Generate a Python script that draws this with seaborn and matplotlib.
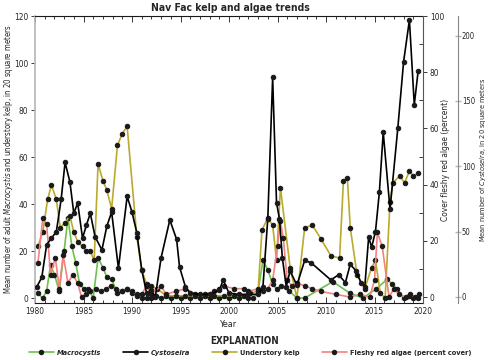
import matplotlib
matplotlib.use("Agg")
import matplotlib.pyplot as plt
import seaborn as sns
import numpy as np

# ---------------- data ----------------
mac_years = [1980.3, 1980.8, 1981.2, 1981.6, 1982.0, 1982.5, 1983.0, 1983.4, 1983.8, 1984.2,
             1984.6, 1985.0, 1985.5, 1986.0, 1986.5, 1987.0, 1987.4, 1987.9, 1988.5, 1989.0,
             1989.5, 1990.0, 1990.5, 1991.0, 1991.5, 1992.0, 1992.5, 1993.0, 1994.0, 1995.0,
             1996.0, 1997.0, 1998.0, 1999.0, 2000.0, 2001.0, 2002.0, 2002.5, 2003.0, 2003.5,
             2004.0, 2004.5, 2004.9, 2005.4, 2006.2, 2007.0, 2007.8, 2010.7, 2012.5, 2013.8,
             2015.2, 2016.3, 2016.8, 2017.3, 2018.0, 2018.6, 2019.0, 2019.5]
mac_vals = [2, 0, 3, 14, 10, 3, 20, 34, 22, 15,
            6, 4, 4, 0, 17, 13, 9, 8, 2, 3,
            4, 2, 1, 0, 0, 0, 1, 0, 0, 0,
            0, 0, 0, 0, 0, 0, 0, 0, 3, 16,
            12, 6, 4, 5, 3, 0, 0, 7, 2, 0,
            4, 8, 6, 4, 0, 1, 0, 0]

cys_years = [1980.2, 1980.7, 1981.2, 1981.7, 1982.2, 1982.7, 1983.1, 1983.6, 1984.0, 1984.4,
             1984.9, 1985.3, 1985.7, 1986.2, 1986.9, 1987.4, 1987.9, 1988.6, 1989.5, 1990.0,
             1990.5, 1991.0, 1991.5, 1992.0, 1992.4, 1993.0, 1993.9, 1994.6, 1994.9, 1995.5,
             1996.0, 1997.0, 1998.0, 1999.0, 1999.4, 2000.0, 2001.0, 2002.0, 2003.0, 2003.5,
             2004.0, 2004.5, 2004.9, 2005.2, 2005.5, 2005.9, 2006.3, 2007.0, 2007.8, 2008.5,
             2010.5, 2011.3, 2012.0, 2012.5, 2013.1, 2013.6, 2014.0, 2014.4, 2014.7, 2015.1,
             2015.5, 2015.9, 2016.6, 2017.4, 2018.0, 2018.6, 2019.1, 2019.5]
cys_vals = [8, 15, 40, 45, 50, 75, 103, 88, 64, 72,
            45, 55, 64, 46, 36, 54, 65, 22, 77, 65,
            49, 21, 3, 5, 0, 30, 59, 44, 23, 8,
            3, 2, 2, 5, 13, 3, 2, 2, 2, 8,
            60, 168, 72, 60, 30, 8, 20, 9, 28, 26,
            13, 17, 11, 25, 20, 11, 8, 46, 38, 50,
            80, 126, 67, 129, 180, 212, 147, 173]

und_years = [1980.3, 1980.8, 1981.3, 1981.7, 1982.2, 1982.6, 1983.1, 1983.6, 1984.0, 1984.4,
             1984.9, 1985.3, 1985.7, 1986.1, 1986.5, 1987.0, 1987.4, 1987.9, 1988.5, 1989.0,
             1989.5, 1990.5, 1991.0, 1991.5, 1992.0, 1992.6, 1993.5, 1994.5, 1995.5, 1996.5,
             1997.5, 1998.5, 1999.5, 2000.5, 2001.5, 2002.2, 2003.0, 2003.4, 2004.0, 2004.5,
             2004.9, 2005.3, 2006.3, 2007.0, 2007.8, 2008.6, 2009.5, 2010.5, 2011.4, 2011.8,
             2012.2, 2012.5, 2013.2, 2014.0, 2014.7, 2015.1, 2015.6, 2016.1, 2016.6, 2016.9,
             2017.6, 2018.1, 2018.6, 2019.0, 2019.5]
und_vals = [22, 28, 42, 48, 42, 30, 32, 35, 28, 24,
            22, 20, 20, 16, 57, 50, 46, 38, 65, 70,
            73, 26, 12, 6, 5, 4, 1, 1, 1, 1,
            1, 1, 1, 1, 1, 2, 3, 29, 34, 31,
            16, 47, 13, 0, 30, 31, 25, 18, 17, 50,
            51, 30, 10, 4, 13, 16, 2, 0, 41, 49,
            52, 49, 54, 52, 53]

red_years = [1980.3, 1980.8, 1981.2, 1981.6, 1982.1, 1982.5, 1982.9, 1983.4, 1983.9, 1984.4,
             1984.8, 1985.3, 1985.7, 1986.3, 1986.8, 1987.3, 1987.8, 1988.4, 1989.0, 1989.5,
             1990.0, 1990.5, 1991.0, 1991.5, 1992.0, 1993.0, 1993.5, 1994.5, 1995.5, 1996.5,
             1997.5, 1998.5, 1999.0, 1999.5, 2000.5, 2001.5, 2002.0, 2003.0, 2003.5, 2004.0,
             2004.5, 2005.0, 2005.3, 2005.6, 2006.0, 2006.5, 2007.0, 2007.8, 2008.6, 2009.5,
             2011.0, 2012.5, 2013.5, 2014.5, 2015.0, 2015.3, 2015.8, 2016.5, 2017.0, 2017.5,
             2018.2, 2018.7, 2019.2, 2019.6]
red_vals = [12, 28, 26, 8, 14, 3, 15, 5, 8, 5,
            0, 1, 2, 3, 2, 3, 4, 3, 2, 3,
            2, 1, 1, 4, 1, 4, 1, 2, 3, 1,
            1, 2, 3, 4, 3, 3, 2, 3, 2, 3,
            6, 18, 27, 21, 6, 4, 5, 4, 3, 2,
            1, 0, 1, 0, 6, 23, 18, 0, 3, 1,
            0, 1, 0, 1]

year_ticks = [1980, 1985, 1990, 1995, 2000, 2005, 2010, 2015, 2020]
left_ticks = [0, 20, 40, 60, 80, 100, 120]
cover_ticks = [0, 20, 40, 60, 80, 100]
cys_ticks = [0, 50, 100, 150, 200]

# ---------------- style ----------------
sns.set_theme(style="white")
plt.rcParams["font.family"] = ["DejaVu Sans"]
plt.rcParams["font.stretch"] = "condensed"
plt.rcParams["mathtext.fontset"] = "custom"
plt.rcParams["mathtext.rm"] = "DejaVu Sans:stretch=condensed"
plt.rcParams["mathtext.it"] = "DejaVu Sans:style=oblique:stretch=condensed"
plt.rcParams["mathtext.bf"] = "DejaVu Sans:weight=bold:stretch=condensed"

GREEN = "#6cc24a"
BLACK = "#000000"
OLIVE = "#bcaa2c"
PINK = "#f4827f"
GRAY = "#b5b5b5"
FS = 6.0

fig = plt.figure(figsize=(4.9, 3.6), dpi=100)
ax = fig.add_axes([35 / 490, 1 - 303 / 360, (423 - 35) / 490, (303 - 16) / 360])
ax2 = ax.twinx()
ax3 = ax.twinx()

mk = dict(marker="o", markersize=3.2, markerfacecolor="k", markeredgecolor="k",
          linewidth=1.2)

sns.lineplot(x=mac_years, y=mac_vals, ax=ax, color=GREEN, label="Macrocystis", **mk)
sns.lineplot(x=und_years, y=und_vals, ax=ax, color=OLIVE, label="Understory kelp", **mk)
sns.lineplot(x=red_years, y=red_vals, ax=ax2, color=PINK,
             label="Fleshy red algae (percent cover)", **mk)
sns.lineplot(x=cys_years, y=cys_vals, ax=ax3, color=BLACK, label="Cystoseira", **mk)

for a in (ax, ax2, ax3):
    lg = a.get_legend()
    if lg is not None:
        lg.remove()

# axes limits
ax.set_xlim(1980, 2020)
ax.set_ylim(-2.1, 120)
ax2.set_ylim(-2.1, 100)
ax3.set_ylim(-4.6, 215)

# x axis
ax.set_xticks(year_ticks)
ax.set_xticks(np.arange(1980, 2021, 1), minor=True)
ax.set_xticklabels([str(t) for t in year_ticks], fontsize=FS)
ax.tick_params(axis="x", which="major", direction="in", length=4, width=0.6,
               color="k", pad=3, top=True, bottom=True)
ax.tick_params(axis="x", which="minor", direction="in", length=2.5, width=0.6,
               color="k", top=True, bottom=True)
ax.set_xlabel("Year", fontsize=FS + 0.5, labelpad=3)

# left axis
ax.set_yticks(left_ticks)
ax.set_yticklabels([str(t) for t in left_ticks], fontsize=FS)
ax.tick_params(axis="y", which="major", direction="out", length=3, width=0.6,
               color="k", pad=2, left=True)
ax.set_ylabel(r"Mean number of adult $\it{Macrocystis}$ and understory kelp, in 20 square meters",
              fontsize=5.6)
ax.yaxis.set_label_coords((15 - 35) / 388, 0.5)

# cover axis
ax2.set_yticks(cover_ticks)
ax2.set_yticklabels([str(t) for t in cover_ticks], fontsize=FS)
ax2.set_yticks(np.arange(0, 101, 10), minor=True)
ax2.tick_params(axis="y", which="major", direction="out", length=3, width=0.6,
                color="k", pad=2, right=True)
ax2.tick_params(axis="y", which="minor", direction="in", length=3, width=0.6,
                color="k", right=True)
ax2.set_ylabel("Cover fleshy red algae (percent)", fontsize=FS)
ax2.yaxis.set_label_coords((441 - 35) / 388, 0.5)

# cystoseira axis
ax3.spines["right"].set_position(("axes", 1.09))
ax3.set_yticks(cys_ticks)
ax3.set_yticklabels([str(t) for t in cys_ticks], fontsize=5.5)
ax3.tick_params(axis="y", which="major", direction="inout", length=5, width=1.0,
                color=GRAY, pad=0.3, right=True)
ax3.set_ylabel(r"Mean number of $\it{Cystoseira}$, in 20 square meters", fontsize=5.3)
ax3.yaxis.set_label_coords((477 - 35) / 388, 0.5)

for a in (ax, ax2, ax3):
    for s in a.spines.values():
        s.set_visible(False)
ax.spines["top"].set_visible(True)
ax.spines["top"].set_color("k")
ax.spines["top"].set_linewidth(0.8)
ax.spines["bottom"].set_visible(True)
ax.spines["bottom"].set_color("k")
ax.spines["bottom"].set_linewidth(0.8)
ax.spines["left"].set_visible(True)
ax.spines["left"].set_color(GRAY)
ax.spines["left"].set_linewidth(1.2)
ax2.spines["right"].set_visible(True)
ax2.spines["right"].set_color("#555555")
ax2.spines["right"].set_linewidth(0.8)
ax3.spines["right"].set_visible(True)
ax3.spines["right"].set_color("#888888")
ax3.spines["right"].set_linewidth(0.8)

for a in (ax, ax2, ax3):
    a.grid(False)
    a.set_facecolor("none")

fig.text(230 / 490, 1 - 8 / 360, "Nav Fac kelp and algae trends", ha="center",
         va="center", fontsize=FS + 1.5, fontweight="bold")

# legend
handles, labels = [], []
for a in (ax, ax3, ax2):
    h, l = a.get_legend_handles_labels()
    handles += h
    labels += l
order = ["Macrocystis", "Cystoseira", "Understory kelp", "Fleshy red algae (percent cover)"]
hmap = dict(zip(labels, handles))
fig.text(0.5, 1 - 341 / 360, "EXPLANATION", ha="center", va="center",
         fontsize=FS + 1, fontweight="bold")
leg = fig.legend([hmap[o] for o in order], order, loc="center",
                 bbox_to_anchor=(250 / 490, 1 - 353 / 360), ncol=4, frameon=False,
                 fontsize=5.3, handlelength=3.4, columnspacing=3.0, handletextpad=0.4,
                 borderaxespad=0)
for t in leg.get_texts():
    t.set_fontweight("bold")
    if t.get_text() in ("Macrocystis", "Cystoseira"):
        t.set_fontstyle("italic")

fig.savefig("out.png", dpi=100)
